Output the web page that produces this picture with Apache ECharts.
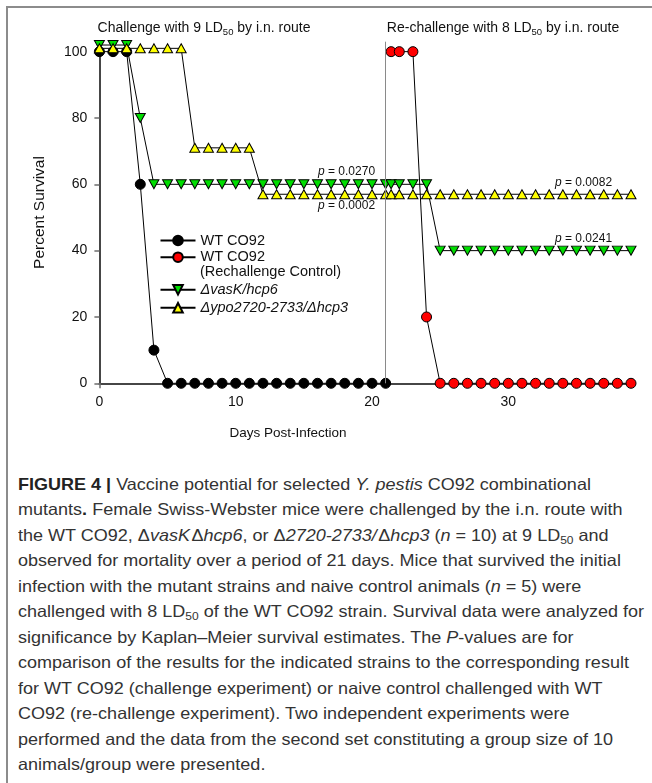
<!DOCTYPE html>
<html>
<head>
<meta charset="utf-8">
<script src="https://cdn.jsdelivr.net/npm/echarts@6/dist/echarts.min.js"></script>
<style>
  html, body { margin: 0; padding: 0; background: #fff; }
  #page { position: relative; width: 652px; height: 783px; overflow: hidden; background: #fff; }
  #frame { position: absolute; left: 6px; top: 6px; width: 700px; height: 800px;
           border-left: 2px solid #8c8c8c; border-top: 2px solid #8c8c8c; }
  #chart { position: absolute; left: 0; top: 0; width: 652px; height: 462px; }
  #caption { position: absolute; left: 18px; top: 472px; font-family: "Liberation Sans", Arial, sans-serif;
             font-size: 16.5px; color: #333; line-height: 25.45px; }
  .cap-line { display: block; white-space: nowrap; }
  .cap-line span.inner { display: inline-block; transform-origin: 0 50%; }
  sub { font-size: 11px; vertical-align: -3px; line-height: 0; }
  b { font-weight: bold; color: #222; }
</style>
</head>
<body>
<div id="page">
  <div id="frame"></div>
  <div id="chart"></div>
  <div id="caption">
    <div class="cap-line"><span class="inner"><b>FIGURE 4 |</b> Vaccine potential for selected <i>Y. pestis</i> CO92 combinational</span></div>
    <div class="cap-line"><span class="inner">mutants<b>.</b> Female Swiss-Webster mice were challenged by the i.n. route with</span></div>
    <div class="cap-line"><span class="inner">the WT CO92, Δ<i>vasK</i>&#8202;Δ<i>hcp6</i>, or Δ<i>2720-2733/</i>&#8202;Δ<i>hcp3</i> (<i>n</i> = 10) at 9 LD<sub>50</sub> and</span></div>
    <div class="cap-line"><span class="inner">observed for mortality over a period of 21 days. Mice that survived the initial</span></div>
    <div class="cap-line"><span class="inner">infection with the mutant strains and naive control animals (<i>n</i> = 5) were</span></div>
    <div class="cap-line" id="measure-line"><span class="inner">challenged with 8 LD<sub>50</sub> of the WT CO92 strain. Survival data were analyzed for</span></div>
    <div class="cap-line"><span class="inner">significance by Kaplan–Meier survival estimates. The <i>P</i>-values are for</span></div>
    <div class="cap-line"><span class="inner">comparison of the results for the indicated strains to the corresponding result</span></div>
    <div class="cap-line"><span class="inner">for WT CO92 (challenge experiment) or naive control challenged with WT</span></div>
    <div class="cap-line"><span class="inner">CO92 (re-challenge experiment). Two independent experiments were</span></div>
    <div class="cap-line"><span class="inner">performed and the data from the second set constituting a group size of 10</span></div>
    <div class="cap-line"><span class="inner">animals/group were presented.</span></div>
  </div>
</div>
<script>
// ---- Survival data (percent surviving per day post-infection) ----
// Initial challenge, WT CO92
const wtDays     = [0, 1, 2, 3, 4, 5, 6, 7, 8, 9, 10, 11, 12, 13, 14, 15, 16, 17, 18, 19, 20, 21];
const wtSurvival = [100, 100, 100, 60, 10, 0, 0, 0, 0, 0, 0, 0, 0, 0, 0, 0, 0, 0, 0, 0, 0, 0];

// Naive controls re-challenged with WT CO92
const rcDays     = [21.4, 22, 23, 24, 25, 26, 27, 28, 29, 30, 31, 32, 33, 34, 35, 36, 37, 38, 39];
const rcSurvival = [100, 100, 100, 20, 0, 0, 0, 0, 0, 0, 0, 0, 0, 0, 0, 0, 0, 0, 0];

// ΔvasK/hcp6 (plotted slightly offset where curves coincide)
const vasDays     = [0, 1, 2, 3, 4, 5, 6, 7, 8, 9, 10, 11, 12, 13, 14, 15, 16, 17, 18, 19, 20, 21, 21.4, 22, 23, 24,
                     25, 26, 27, 28, 29, 30, 31, 32, 33, 34, 35, 36, 37, 38, 39];
const vasSurvival = [102, 102, 102, 80, 60, 60, 60, 60, 60, 60, 60, 60, 60, 60, 60, 60, 60, 60, 60, 60, 60, 60, 60, 60, 60, 60,
                     40, 40, 40, 40, 40, 40, 40, 40, 40, 40, 40, 40, 40, 40, 40];

// Δypo2720-2733/Δhcp3 (plotted slightly offset where curves coincide)
const ypoDays     = [0, 1, 2, 3, 4, 5, 6, 7, 8, 9, 10, 11, 12, 13, 14, 15, 16, 17, 18, 19, 20, 21, 21.4, 22, 23, 24,
                     25, 26, 27, 28, 29, 30, 31, 32, 33, 34, 35, 36, 37, 38, 39];
const ypoSurvival = [101, 101, 101, 101, 101, 101, 101, 71, 71, 71, 71, 71, 57, 57, 57, 57, 57, 57, 57, 57, 57, 57, 57, 57, 57, 57,
                     57, 57, 57, 57, 57, 57, 57, 57, 57, 57, 57, 57, 57, 57, 57];

const rechallengeDay = 21;
const xTicks = [0, 10, 20, 30];
const yTicks = [0, 20, 40, 60, 80, 100];

const seriesNames = ['WT CO92', 'WT CO92 (Rechallenge Control)', 'ΔvasK/hcp6', 'Δypo2720-2733/Δhcp3'];
const pValues = ['0.0270', '0.0002', '0.0082', '0.0241'];

// ---- Helpers ----
const FONT = '"Liberation Sans", Arial, sans-serif';
const zip = (xs, ys) => xs.map((x, i) => [x, ys[i]]);
const downTriangle = 'path://M0,0 L10,0 L5,9 Z';

function survivalSeries(name, xs, ys, symbol, fill, size) {
  return {
    name: name,
    type: 'line',
    data: zip(xs, ys),
    symbol: symbol,
    symbolSize: size,
    showAllSymbol: true,
    lineStyle: { color: '#000', width: 1 },
    itemStyle: { color: fill, borderColor: '#000', borderWidth: 1 },
    emphasis: { disabled: true },
    z: 3
  };
}

const series = [
  survivalSeries(seriesNames[0], wtDays, wtSurvival, 'circle', '#000000', 10),
  survivalSeries(seriesNames[1], rcDays, rcSurvival, 'circle', '#ff0000', 10),
  survivalSeries(seriesNames[2], vasDays, vasSurvival, downTriangle, '#00dd00', [10, 9]),
  survivalSeries(seriesNames[3], ypoDays, ypoSurvival, 'triangle', '#ffff00', [10, 9])
];
// Vertical divider marking the day of re-challenge
series[0].markLine = {
  silent: true,
  symbol: 'none',
  label: { show: false },
  lineStyle: { color: '#8a8a8a', width: 1, type: 'solid' },
  data: [{ xAxis: rechallengeDay }]
};

// One legend block per entry so rows can be spaced like the key
const legendBase = {
  orient: 'vertical',
  left: 159.5,
  padding: 0,
  itemWidth: 35,
  itemHeight: 12,
  selectedMode: false,
  textStyle: { fontFamily: FONT, fontSize: 14.5, color: '#111', lineHeight: 14 }
};
const legendTops = [233, 249.7, 282.3, 300.3];
const legends = seriesNames.map((n, i) => Object.assign({}, legendBase, {
  top: legendTops[i],
  data: [i >= 2 ? { name: n, textStyle: { fontStyle: 'italic' } } : { name: n }],
  formatter: (name) => name === seriesNames[1] ? 'WT CO92' : name
}));

function pLabel(value, x, y) {
  return {
    type: 'text',
    x: x, y: y,
    style: {
      text: '{i|p} = ' + value,
      rich: { i: { fontStyle: 'italic', fontFamily: FONT, fontSize: 12 } },
      font: '12px ' + FONT,
      fill: '#111',
      align: 'left',
      verticalAlign: 'middle'
    }
  };
}

function headerText(pre, post, cx) {
  return {
    type: 'text',
    x: cx, y: 28,
    style: {
      text: '{t|' + pre + '}{s|50}{t|' + post + '}',
      rich: {
        t: { fontFamily: FONT, fontSize: 14, fill: '#111', lineHeight: 18 },
        s: { fontFamily: FONT, fontSize: 9.5, fill: '#111', padding: [8, 0, 0, 0] }
      },
      align: 'center',
      verticalAlign: 'middle'
    }
  };
}

const chart = echarts.init(document.getElementById('chart'), null, { renderer: 'canvas' });
chart.setOption({
  animation: false,
  backgroundColor: 'transparent',
  grid: { left: 99.4, top: 41.7, width: 531.6, height: 341.6 },
  xAxis: [{
    type: 'value', min: 0, max: 39, interval: 10,
    axisLine: { show: true, onZero: false, lineStyle: { color: '#6e6e6e', width: 2 } },
    axisTick: { show: true, length: 5, customValues: xTicks, lineStyle: { color: '#6e6e6e', width: 1.5 } },
    axisLabel: { customValues: xTicks, margin: 12, fontFamily: FONT, fontSize: 14, color: '#111' },
    splitLine: { show: false }
  }, {
    type: 'value', min: 0, max: 39, position: 'top',
    axisLine: { show: true, lineStyle: { color: '#3a3a3a', width: 1.5 } },
    axisTick: { show: false }, axisLabel: { show: false }, splitLine: { show: false }
  }],
  yAxis: [{
    type: 'value', min: 0, max: 103, interval: 20,
    name: 'Percent Survival', nameLocation: 'middle', nameGap: 52,
    nameTextStyle: { fontFamily: FONT, fontSize: 15.5, color: '#111' },
    axisLine: { show: true, onZero: false, lineStyle: { color: '#6e6e6e', width: 2 } },
    axisTick: { show: true, length: 5, customValues: yTicks, lineStyle: { color: '#6e6e6e', width: 1.5 } },
    axisLabel: { customValues: yTicks, margin: 12, fontFamily: FONT, fontSize: 14, color: '#111' },
    splitLine: { show: false }
  }, {
    type: 'value', min: 0, max: 103, position: 'right',
    axisLine: { show: true, lineStyle: { color: '#3a3a3a', width: 1.5 } },
    axisTick: { show: false }, axisLabel: { show: false }, splitLine: { show: false }
  }],
  legend: legends,
  series: series,
  graphic: [
    headerText('Challenge with 9 LD', ' by i.n. route', 204),
    headerText('Re-challenge with 8 LD', ' by i.n. route', 503),
    {
      type: 'text', x: 288, y: 433,
      style: { text: 'Days Post-Infection', font: '13.5px ' + FONT, fill: '#111', align: 'center', verticalAlign: 'middle' }
    },
    {
      type: 'text', x: 200, y: 271.7,
      style: { text: '(Rechallenge Control)', font: '14.5px ' + FONT, fill: '#111', align: 'left', verticalAlign: 'middle' }
    },
    pLabel(pValues[0], 318, 172),
    pLabel(pValues[1], 318, 206),
    pLabel(pValues[2], 555, 182.7),
    pLabel(pValues[3], 555, 238.3)
  ]
});

// Caption: one horizontal scale for every line, set so the widest line fills the column
const captionLeft = 18, captionMeasureRight = 644;
const measured = document.querySelector('#measure-line .inner').getBoundingClientRect().width;
const captionScale = (captionMeasureRight - captionLeft) / measured;
document.querySelectorAll('#caption .inner').forEach((el) => {
  el.style.transform = 'scaleX(' + captionScale.toFixed(4) + ')';
});
</script>
</body>
</html>
